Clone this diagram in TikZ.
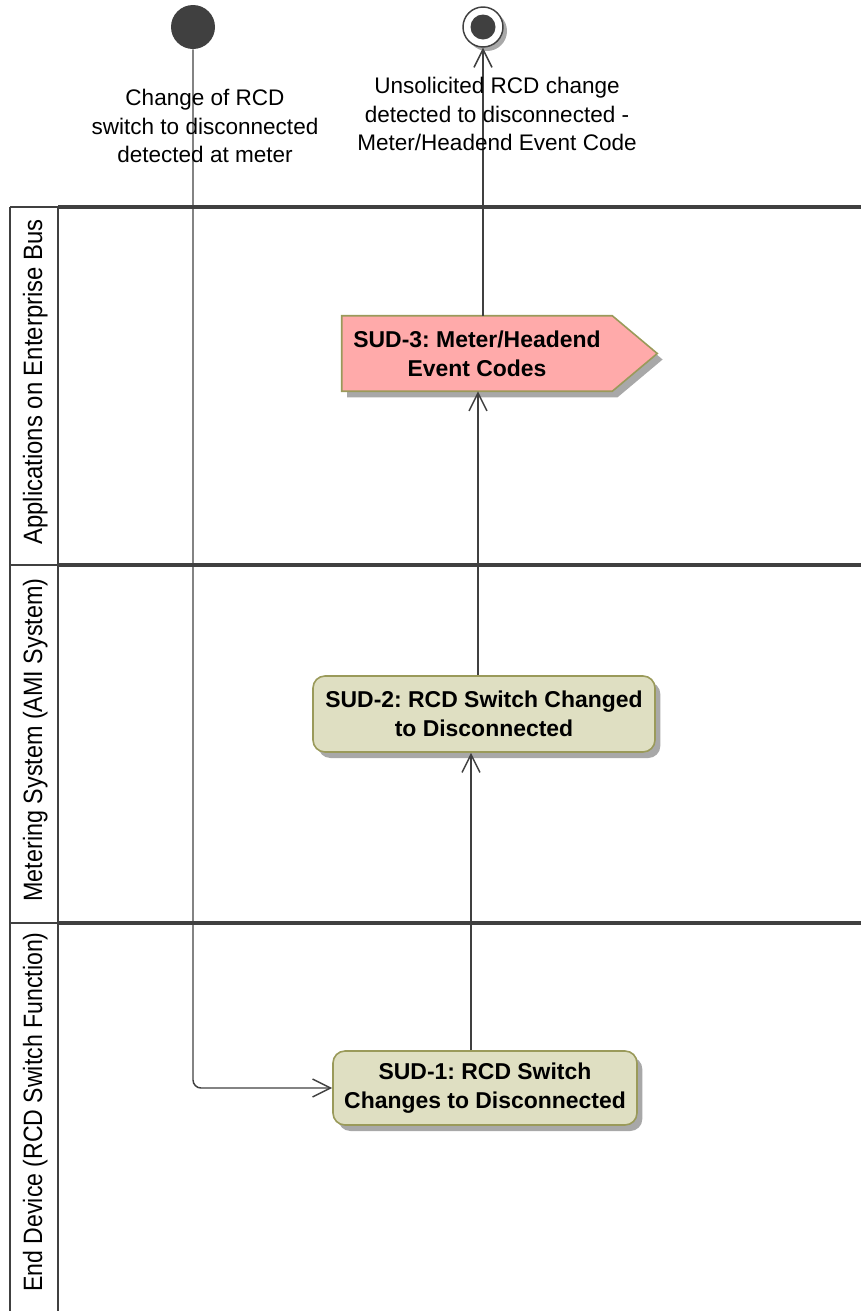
\documentclass[tikz,border=0pt]{standalone}
\usepackage{fontspec}
\setmainfont{Liberation Sans}
\frenchspacing
\usetikzlibrary{arrows.meta,shadows,backgrounds}
\definecolor{ink}{HTML}{404040}
\definecolor{actfill}{HTML}{DFDFC2}
\definecolor{actedge}{HTML}{9A9A5A}
\definecolor{evfill}{HTML}{FFAAAA}
\definecolor{shade}{HTML}{A8A8A8}
\begin{document}
\begin{tikzpicture}[x=0.75pt,y=-0.75pt,
  lanerule/.style={ink,line width=2.4pt},
  headrule/.style={ink,line width=1pt},
  lanelabel/.style={rotate=90,anchor=base,inner sep=0pt,font=\fontsize{19.9}{24}\selectfont},
  flow/.style={ink,line width=1.1pt,-{Straight Barb[length=13.5pt,width=13.5pt]}},
  note/.style={align=center,inner sep=0pt,font=\fontsize{16.9}{21.4}\selectfont},
  boxshadow/.style={drop shadow={shadow xshift=4pt,shadow yshift=-4.5pt,fill=shade,opacity=1}},
  act/.style={draw=actedge,fill=actfill,line width=1.2pt,rounded corners=9pt,align=center,
    inner sep=0pt,font=\bfseries\fontsize{17.2}{21.8}\selectfont,boxshadow},
  eventtext/.style={align=center,inner sep=0pt,font=\bfseries\fontsize{17.2}{21.8}\selectfont},
]
\useasboundingbox (0,0) rectangle (861,1311);

% swimlane frame
\draw[headrule] (10,207) -- (10,1311);
\draw[headrule] (58,207) -- (58,1311);
\foreach \yy in {207,565,923}{
  \draw[headrule] (10,\yy) -- (58,\yy);
  \draw[lanerule] (58,\yy) -- (861,\yy);
}

% lane titles
\node[lanelabel] (lane1) at (42,382) {\scalebox{0.9}[1]{Applications on Enterprise Bus}};
\node[lanelabel] (lane2) at (42,740) {\scalebox{0.88}[1]{Metering System (AMI System)}};
\node[lanelabel] (lane3) at (42,1112) {\scalebox{0.87}[1]{End Device (RCD Switch Function)}};

% initial and final nodes
\node[circle,fill=ink,minimum size=33pt,inner sep=0pt] (start) at (193,27) {};
\node[circle,draw=ink,fill=white,line width=1.1pt,minimum size=30pt,inner sep=0pt,
  drop shadow={shadow xshift=3pt,shadow yshift=-3pt,fill=shade,opacity=1}] (finish) at (483,27) {};
\node[circle,fill=ink,minimum size=18.75pt,inner sep=0pt] (finishdot) at (finish) {};

% activities
\node[act,minimum width=228pt,minimum height=55.5pt] (sud1) at (485,1088)
  {SUD-1: RCD Switch\\Changes to Disconnected};
\node[act,minimum width=256.5pt,minimum height=57pt] (sud2) at (484,714)
  {SUD-2: RCD Switch Changed\\to Disconnected};
\node[eventtext,minimum width=202.5pt,minimum height=56.25pt] (sud3) at (477,353.5)
  {SUD-3: Meter/Headend\\Event Codes};
\begin{pgfonlayer}{background}
\path[fill=evfill,draw=actedge,line width=1.2pt,boxshadow]
  (sud3.north west) -- (sud3.north east) -- ([xshift=33.75pt]sud3.east)
  -- (sud3.south east) -- (sud3.south west) -- cycle;
\end{pgfonlayer}

% control flow
\draw[flow,rounded corners=6pt] (start.south) -- (start.south |- sud1.west) -- (sud1.west);
\draw[flow] ([xshift=-10.5pt]sud1.north) -- ([xshift=-10.5pt]sud1.north |- sud2.south);
\draw[flow] ([xshift=-4.5pt]sud2.north) -- ([xshift=-4.5pt]sud2.north |- sud3.south);
\draw[flow] ([xshift=4.5pt]sud3.north) -- (finish.south);

% flow notes
\node[note] (startnote) at (205,126) {Change of RCD\\switch to disconnected\\detected at meter};
\node[note] (finishnote) at (497,114) {Unsolicited RCD change\\detected to disconnected -\\Meter/Headend Event Code};
\end{tikzpicture}
\end{document}
